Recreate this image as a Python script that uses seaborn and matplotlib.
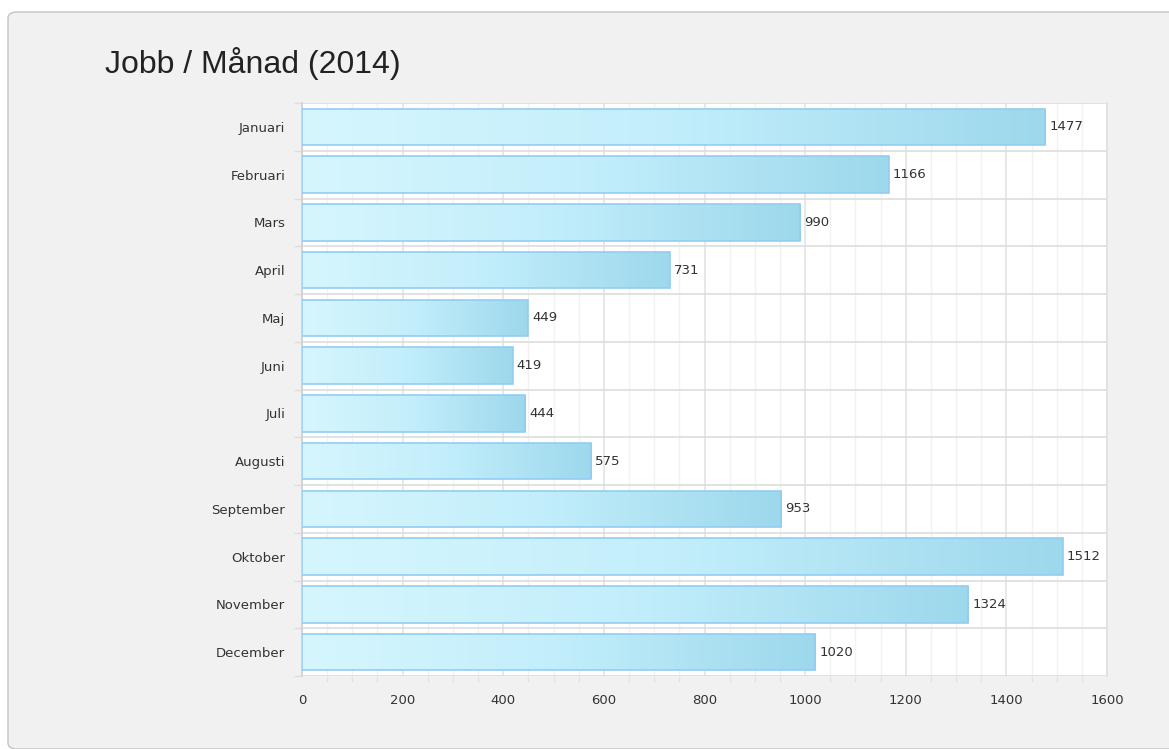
import numpy as np
import pandas as pd
import matplotlib
matplotlib.use("Agg")
import matplotlib.pyplot as plt
from matplotlib.patches import FancyBboxPatch
from matplotlib.colors import LinearSegmentedColormap
from matplotlib.ticker import MultipleLocator, FixedLocator
import seaborn as sns

months = ["Januari", "Februari", "Mars", "April", "Maj", "Juni", "Juli",
          "Augusti", "September", "Oktober", "November", "December"]
jobs = [1477, 1166, 990, 731, 449, 419, 444, 575, 953, 1512, 1324, 1020]
title = "Jobb / Månad (2014)"
xticks = [0, 200, 400, 600, 800, 1000, 1200, 1400, 1600]

df = pd.DataFrame({"month": months, "jobs": jobs})

sns.set_theme(style="white")
plt.rcParams['font.family'] = ['DejaVu Sans']

fig = plt.figure(figsize=(11.69, 7.49), dpi=100)
fig.patch.set_facecolor("white")
W, H = 1169, 749
panel = FancyBboxPatch((8 / W, 0), 1 - 8 / W + 0.01, (749 - 12) / H,
                       boxstyle="round,pad=0,rounding_size=0.008",
                       transform=fig.transFigure, facecolor="#f1f1f1",
                       edgecolor="#c4c4c4", linewidth=1.0, zorder=-10)
fig.patches.append(panel)

ax = fig.add_axes([302 / W, (749 - 676) / H, (1107 - 302) / W, (676 - 103) / H])
ax.set_facecolor("white")

sns.barplot(data=df, x="jobs", y="month", orient="h", ax=ax, width=0.76,
            color="#c6effa", edgecolor="#92cdf3", linewidth=1.2, zorder=3)

cmap = LinearSegmentedColormap.from_list("g", ["#d6f6fe", "#c2eefb", "#9dd8ec"])
grad = np.linspace(0, 1, 256).reshape(1, -1)
for p in ax.patches:
    x0, y0 = p.get_x(), p.get_y()
    w, h = p.get_width(), p.get_height()
    im = ax.imshow(grad, extent=[x0, x0 + w, y0 + h, y0], aspect="auto",
                   cmap=cmap, zorder=3.5, interpolation="bicubic")
    im.set_clip_path(p)
    p.set_facecolor("none")
    p.set_zorder(4)

for i, v in enumerate(jobs):
    ax.text(v + 8, i, str(v), va="center", ha="left", fontsize=9.5, color="#333333", zorder=5)

ax.set_xlim(0, 1600)
ax.set_ylim(len(months) - 0.5, -0.5)
ax.set_xticks(xticks)
ax.set_xticklabels([str(t) for t in xticks])
ax.xaxis.set_minor_locator(MultipleLocator(50))
ax.yaxis.set_minor_locator(FixedLocator([k - 0.5 for k in range(len(months) + 1)]))
ax.grid(True, axis="x", which="major", color="#e6e6e6", linewidth=1.3, zorder=0)
ax.grid(True, axis="x", which="minor", color="#f2f2f2", linewidth=1.0, zorder=0)
for k in range(len(months) + 1):
    ax.axhline(k - 0.5, color="#dddddd", linewidth=1.2, zorder=1)

ax.set_xlabel("")
ax.set_ylabel("")
ax.tick_params(axis="both", which="major", labelsize=9.5, labelcolor="#333333", length=0, pad=12)
ax.tick_params(axis="x", which="major", length=5, color="#d6d6d6", direction="out", pad=8)
ax.tick_params(axis="x", which="minor", length=4, color="#e2e2e2", direction="out", bottom=True)
ax.tick_params(axis="y", which="minor", length=6, color="#dddddd", direction="out", left=True)
for s in ax.spines.values():
    s.set_visible(False)
ax.spines["left"].set_visible(True)
ax.spines["left"].set_color("#d0d0d0")
ax.spines["right"].set_visible(True)
ax.spines["right"].set_color("#e0e0e0")

fig.text(105 / W, 1 - 63 / H, title, fontsize=23, color="#222222", va="center", ha="left",
         family=["Liberation Sans", "DejaVu Sans"])

fig.savefig("out.png", dpi=100, facecolor=fig.get_facecolor())
